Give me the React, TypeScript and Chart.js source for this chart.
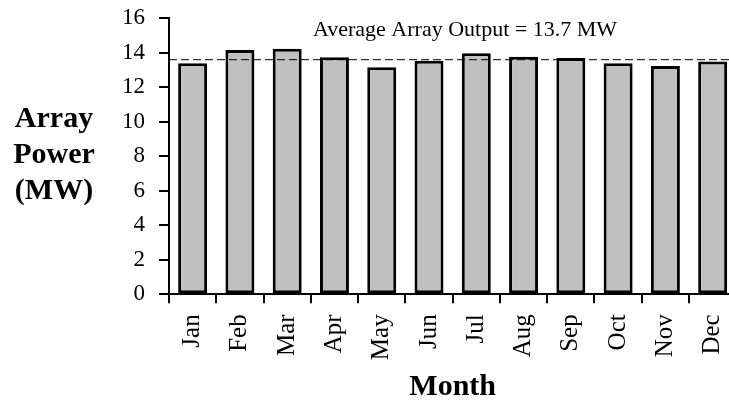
import React, { useEffect, useRef } from 'react';
import { Chart, registerables } from 'chart.js';

Chart.register(...registerables);

// ---- data ----
const months = ['Jan', 'Feb', 'Mar', 'Apr', 'May', 'Jun', 'Jul', 'Aug', 'Sep', 'Oct', 'Nov', 'Dec'];
const arrayPower = [13.39, 14.16, 14.24, 13.74, 13.16, 13.54, 13.97, 13.77, 13.7, 13.39, 13.23, 13.49];
const averagePower = 13.6;
const averageLabel = 'Average Array Output = 13.7 MW';
const yTitleLines = ['Array', 'Power', '(MW)'];
const xTitle = 'Month';
const yMin = 0;
const yMax = 16;
const yStep = 2;

// ---- style ----
const SERIF = "'Liberation Serif', 'Times New Roman', Times, serif";
const CANVAS_W = 760;
const CANVAS_H = 402;
const PLOT_LEFT = 169;
const PLOT_RIGHT = 736.3;
const PLOT_TOP = 18.3;
const PLOT_BOTTOM = 294.3;

const overlayPlugin = {
  id: 'overlayText',
  afterDatasetsDraw(chart: any) {
    const { ctx, chartArea, scales } = chart;
    const y = scales.y.getPixelForValue(averagePower);
    ctx.save();
    ctx.setLineDash([8, 4]);
    ctx.lineWidth = 1;
    ctx.strokeStyle = '#000';
    ctx.beginPath();
    ctx.moveTo(chartArea.left, y);
    ctx.lineTo(chartArea.right, y);
    ctx.stroke();
    ctx.restore();
  },
  afterDraw(chart: any) {
    const { ctx, chartArea } = chart;
    ctx.save();
    ctx.fillStyle = '#000';
    ctx.textAlign = 'center';
    ctx.textBaseline = 'alphabetic';
    // annotation
    ctx.font = `22px ${SERIF}`;
    ctx.fillText(averageLabel, 465, 36);
    // y title (horizontal, stacked lines)
    ctx.font = `bold 30px ${SERIF}`;
    yTitleLines.forEach((line, i) => {
      ctx.fillText(line, 54, 127 + i * 36);
    });
    // x title
    ctx.fillText(xTitle, (chartArea.left + chartArea.right) / 2, 395);
    ctx.restore();
  },
};

export default function App() {
  const canvasRef = useRef<HTMLCanvasElement | null>(null);

  useEffect(() => {
    if (!canvasRef.current) return;
    const chart = new Chart(canvasRef.current, {
      type: 'bar',
      data: {
        labels: months,
        datasets: [
          {
            data: arrayPower,
            backgroundColor: '#c0c0c0',
            borderColor: '#000',
            borderWidth: 3,
            borderSkipped: false,
            barPercentage: 0.613,
            categoryPercentage: 1,
          },
        ],
      },
      options: {
        animation: false,
        responsive: false,
        devicePixelRatio: 1,
        layout: {
          padding: { left: 0, top: PLOT_TOP, right: CANVAS_W - PLOT_RIGHT, bottom: 0 },
        },
        plugins: {
          legend: { display: false },
          tooltip: { enabled: false },
          title: { display: false },
        },
        scales: {
          x: {
            offset: true,
            ticks: {
              color: '#000',
              font: { family: SERIF, size: 25 },
              maxRotation: 90,
              minRotation: 90,
              padding: 11,
              autoSkip: false,
            },
            grid: {
              offset: true,
              drawOnChartArea: false,
              drawTicks: true,
              tickLength: 9,
              color: '#000',
              lineWidth: 2,
            },
            border: { display: true, color: '#000', width: 2 },
            afterFit: (scale: any) => {
              scale.height = CANVAS_H - PLOT_BOTTOM;
              scale.paddingLeft = 0;
              scale.paddingRight = 0;
            },
          },
          y: {
            min: yMin,
            max: yMax,
            ticks: {
              stepSize: yStep,
              color: '#000',
              font: { family: SERIF, size: 23 },
              padding: 14,
            },
            grid: {
              drawOnChartArea: false,
              drawTicks: true,
              tickLength: 10,
              color: '#000',
              lineWidth: 2,
            },
            border: { display: true, color: '#000', width: 2 },
            afterFit: (scale: any) => {
              scale.width = PLOT_LEFT;
              scale.paddingTop = 0;
              scale.paddingBottom = 0;
            },
          },
        },
      },
      plugins: [overlayPlugin],
    });
    return () => chart.destroy();
  }, []);

  return (
    <div
      style={{
        position: 'fixed',
        left: 0,
        top: 0,
        width: 729,
        height: 402,
        overflow: 'hidden',
        background: '#fff',
      }}
    >
      <canvas
        ref={canvasRef}
        width={CANVAS_W}
        height={CANVAS_H}
        style={{ display: 'block', width: CANVAS_W, height: CANVAS_H }}
      />
    </div>
  );
}
